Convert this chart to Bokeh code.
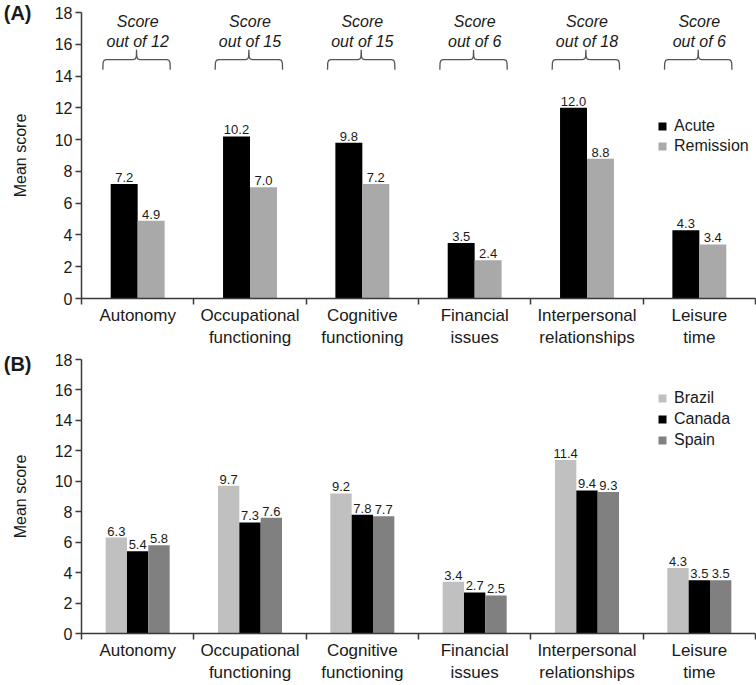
from bokeh.plotting import figure
from bokeh.models import (Range1d, FixedTicker, Legend, LegendItem, LinearAxis, ColumnDataSource)
from bokeh.layouts import column
from bokeh.embed import file_html
from bokeh.resources import INLINE
from bokeh.core.properties import value

# ---------------- data ----------------
categories = ["Autonomy", "Occupational\nfunctioning", "Cognitive\nfunctioning",
              "Financial\nissues", "Interpersonal\nrelationships", "Leisure\ntime"]
score_max = [12, 15, 15, 6, 18, 6]
acute = [7.2, 10.2, 9.8, 3.5, 12.0, 4.3]
remission = [4.9, 7.0, 7.2, 2.4, 8.8, 3.4]
brazil = [6.3, 9.7, 9.2, 3.4, 11.4, 4.3]
canada = [5.4, 7.3, 7.8, 2.7, 9.4, 3.5]
spain = [5.8, 7.6, 7.7, 2.5, 9.3, 3.5]
y_ticks = [0, 2, 4, 6, 8, 10, 12, 14, 16, 18]
Y_MAX = 18

FONT = "Liberation Sans"
AX = "#3a3a3a"
TXT = "#1a1a1a"
n = len(categories)
centers = [i + 0.5 for i in range(n)]


def base_fig(height, top, bottom, tag):
    p = figure(width=756, height=height, output_backend="svg", toolbar_location=None,
               x_range=Range1d(0, n), y_range=Range1d(0, Y_MAX),
               min_border_left=81, min_border_right=1, min_border_top=top,
               min_border_bottom=bottom)
    p.outline_line_color = None
    p.xgrid.visible = False
    p.ygrid.visible = False
    p.background_fill_color = "white"
    p.border_fill_color = "white"
    # y axis
    ya = p.yaxis[0]
    ya.ticker = FixedTicker(ticks=y_ticks, minor_ticks=[])
    ya.axis_label = "Mean score"
    ya.axis_label_text_font = FONT
    ya.axis_label_text_font_style = "normal"
    ya.axis_label_text_font_size = "16px"
    ya.axis_label_text_color = TXT
    ya.axis_label_standoff = 23
    ya.major_label_text_font = FONT
    ya.major_label_text_font_size = "16px"
    ya.major_label_text_color = TXT
    ya.major_tick_in = 0
    ya.major_tick_out = 6
    ya.minor_tick_out = 0
    ya.axis_line_color = AX
    ya.axis_line_width = 1.5
    ya.major_tick_line_color = AX
    ya.major_tick_line_width = 1.5
    ya.major_label_standoff = 3
    # panel tag: an outer, line-less axis whose only label sits at the top tick
    tag_axis = LinearAxis(ticker=FixedTicker(ticks=[Y_MAX], minor_ticks=[]),
                          major_label_overrides={Y_MAX: tag},
                          axis_line_color=None, major_tick_line_color=None,
                          minor_tick_line_color=None, major_tick_in=0, major_tick_out=0,
                          minor_tick_in=0, minor_tick_out=0, major_label_standoff=-23,
                          major_label_text_font=FONT, major_label_text_font_size="20px",
                          major_label_text_font_style="bold", major_label_text_color=TXT)
    p.add_layout(tag_axis, "left")
    # x axis: labels at centres, tick marks at boundaries
    xa = p.xaxis[0]
    xa.ticker = FixedTicker(ticks=centers, minor_ticks=list(range(n + 1)))
    xa.major_label_overrides = {c: lab for c, lab in zip(centers, categories)}
    xa.major_tick_in = 0
    xa.major_tick_out = 0
    xa.minor_tick_in = 0
    xa.minor_tick_out = 6
    xa.minor_tick_line_color = AX
    xa.minor_tick_line_width = 1.5
    xa.axis_line_color = AX
    xa.axis_line_width = 1.5
    xa.major_label_text_font = FONT
    xa.major_label_text_font_size = "17px"
    xa.major_label_text_color = TXT
    xa.major_label_standoff = 1
    return p


def add_values(p, xs, ys):
    src = ColumnDataSource(dict(x=xs, y=ys, t=["%.1f" % v for v in ys]))
    p.text(x="x", y="y", text="t", source=src, text_font=value(FONT),
           text_font_size="13px", text_color=TXT, text_align="center",
           text_baseline="bottom", y_offset=-2)


# ---------------- Panel A ----------------
pA = base_fig(height=350, top=12, bottom=51, tag="(A)")
wA = 0.24
xA1 = [c - wA / 2 for c in centers]
xA2 = [c + wA / 2 for c in centers]
rA1 = pA.vbar(x=xA1, top=acute, width=wA, fill_color="black", line_color=None)
rA2 = pA.vbar(x=xA2, top=remission, width=wA, fill_color="#a9a9a9", line_color=None)
add_values(pA, xA1, acute)
add_values(pA, xA2, remission)

# braces + score text
bx, by = [], []
for c in centers:
    x0, x1, xc = c - 0.31, c + 0.29, c - 0.01
    lo, mid, hi = 14.4, 15.03, 15.66
    bx.append([x0, x0 + 0.002, x0 + 0.01, x0 + 0.03, xc - 0.03, xc - 0.01, xc - 0.002, xc,
               xc + 0.002, xc + 0.01, xc + 0.03, x1 - 0.03, x1 - 0.01, x1 - 0.002, x1])
    by.append([lo, mid - 0.2, mid - 0.05, mid, mid, mid + 0.05, mid + 0.2, hi,
               mid + 0.2, mid + 0.05, mid, mid, mid - 0.05, mid - 0.2, lo])
pA.multi_line(xs=bx, ys=by, line_color="#555555", line_width=1.3)
sc_src = ColumnDataSource(dict(x=centers, t=["out of %d" % m for m in score_max],
                               s=["Score"] * n))
pA.text(x="x", y=17.44, text="s", source=sc_src, text_font=value(FONT), text_font_size="16px",
        text_font_style="italic", text_color=TXT, text_align="center", text_baseline="middle")
pA.text(x="x", y=16.2, text="t", source=sc_src, text_font=value(FONT), text_font_size="16px",
        text_font_style="italic", text_color=TXT, text_align="center", text_baseline="middle")

legA = Legend(items=[LegendItem(label="Acute", renderers=[rA1]),
                     LegendItem(label="Remission", renderers=[rA2])],
              location=(576, 143), border_line_color=None, background_fill_alpha=0,
              padding=0, margin=0, spacing=2, glyph_width=10, glyph_height=10,
              label_height=18, label_standoff=7, label_text_font=FONT,
              label_text_font_size="16px", label_text_color=TXT)
pA.add_layout(legA)

# ---------------- Panel B ----------------
pB = base_fig(height=335, top=9, bottom=51, tag="(B)")
wB = 0.19
xB1 = [c - wB for c in centers]
xB2 = list(centers)
xB3 = [c + wB for c in centers]
rB1 = pB.vbar(x=xB1, top=brazil, width=wB, fill_color="#c0c0c0", line_color=None)
rB2 = pB.vbar(x=xB2, top=canada, width=wB, fill_color="black", line_color=None)
rB3 = pB.vbar(x=xB3, top=spain, width=wB, fill_color="#808080", line_color=None)
add_values(pB, xB1, brazil)
add_values(pB, xB2, canada)
add_values(pB, xB3, spain)

legB = Legend(items=[LegendItem(label="Brazil", renderers=[rB1]),
                     LegendItem(label="Canada", renderers=[rB2]),
                     LegendItem(label="Spain", renderers=[rB3])],
              location=(576, 184), border_line_color=None, background_fill_alpha=0,
              padding=0, margin=0, spacing=3, glyph_width=10, glyph_height=10,
              label_height=18, label_standoff=7, label_text_font=FONT,
              label_text_font_size="16px", label_text_color=TXT)
pB.add_layout(legB)

layout = column(pA, pB, spacing=0)
open("out.html", "w").write(file_html(layout, INLINE))
